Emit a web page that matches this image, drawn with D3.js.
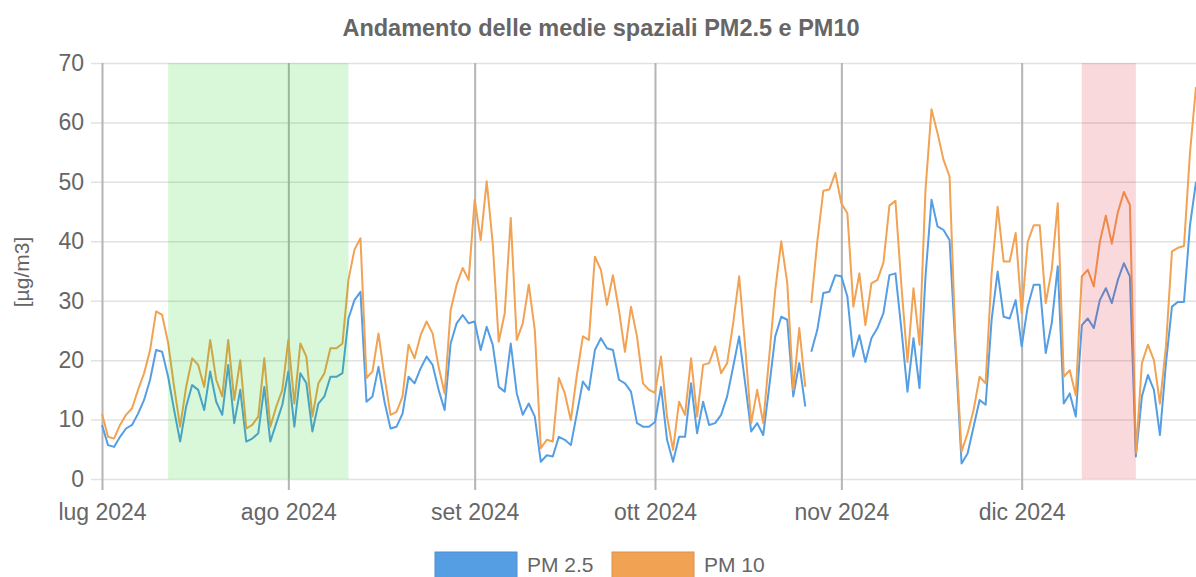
<!DOCTYPE html>
<html>
<head>
<meta charset="utf-8">
<script src="https://cdn.jsdelivr.net/npm/d3@7"></script>
<style>
body { margin: 0; background: #fff; }
text { font-family: "Liberation Sans", Arial, sans-serif; }
</style>
</head>
<body>
<div class="chart"></div>
<script>
const width = 1196, height = 577;

// daily values from 2024-07-01
const startDate = "2024-07-01";
const pm25 = [
  9.1, 5.7, 5.4, 7.1, 8.5, 9.1, 11.0, 13.3, 16.7, 21.7, 21.4, 17.2, 11.6, 6.3, 12.2, 15.8,
  15.0, 11.6, 18.1, 13.0, 10.8, 19.2, 9.4, 15.0, 6.3, 6.8, 7.7, 15.5, 6.3, 9.4, 12.5,
  18.1, 8.8, 17.8, 16.1, 8.0, 12.7, 13.9, 17.2, 17.2, 17.8, 27.0, 30.1, 31.5, 13.0, 13.9,
  18.9, 13.0, 8.5, 8.8, 11.0, 17.2, 16.1, 18.6, 20.6, 19.2, 15.0, 11.6, 22.8, 26.2, 27.6, 26.2,
  26.5, 21.7, 25.6, 22.6, 15.5, 14.7, 22.8, 14.4, 10.8, 12.7, 10.5, 2.9, 4.0, 3.8, 7.1,
  6.6, 5.7, 11.0, 16.4, 15.0, 21.7, 23.7, 22.0, 21.7, 16.7, 16.1, 14.7, 9.4, 8.8, 8.8,
  9.6, 15.5, 6.6, 2.9, 7.1, 7.1, 16.1, 7.7, 13.0, 9.1, 9.4, 10.8, 13.9, 18.9, 24.0, 16.1,
  8.0, 9.4, 7.4, 15.5, 24.0, 27.3, 26.8, 13.9, 19.5, 12.2, 21.4, 25.1, 31.3, 31.5, 34.3,
  34.1, 30.7, 20.6, 24.2, 19.7, 23.7, 25.4, 27.9, 34.3, 34.6, 25.1, 14.7, 23.7, 15.3, 34.1,
  47.0, 42.5, 41.9, 40.2, 21.7, 2.6, 4.3, 8.8, 13.3, 12.5, 26.8, 34.9, 27.3, 27.0, 30.1,
  22.3, 29.0, 32.7, 32.7, 21.2, 26.2, 35.8, 12.7, 14.4, 10.5, 25.9, 27.0, 25.4, 30.1, 32.1,
  29.6, 33.5, 36.3, 34.1, 3.8, 13.9, 17.5, 15.0, 7.4, 19.5, 29.0, 29.8, 29.8, 42.7, 50.0
];
const pm10 = [
  11.0, 7.1, 6.8, 9.1, 10.8, 11.9, 15.0, 17.8, 21.7, 28.2, 27.6, 22.9, 15.5, 8.8, 15.5, 20.3,
  19.2, 15.5, 23.4, 16.7, 13.9, 23.4, 13.3, 20.0, 8.5, 9.1, 10.5, 20.3, 8.8, 12.2, 15.0,
  23.4, 12.7, 22.8, 20.6, 10.5, 16.1, 17.8, 22.0, 22.0, 22.8, 33.5, 38.6, 40.5, 17.0, 18.1,
  24.5, 17.2, 10.8, 11.3, 13.9, 22.6, 20.3, 24.2, 26.5, 24.5, 18.9, 14.4, 28.4, 32.7, 35.5, 33.5,
  47.0, 40.2, 50.1, 39.7, 23.1, 27.9, 43.9, 23.4, 26.2, 32.7, 25.1, 5.2, 6.6, 6.3, 17.0,
  14.4, 9.9, 17.5, 24.0, 23.4, 37.4, 35.2, 29.3, 34.3, 28.4, 21.4, 29.0, 24.0, 16.1, 15.0,
  14.5, 20.6, 10.5, 4.9, 13.0, 10.8, 20.3, 10.5, 19.2, 19.5, 22.3, 17.8, 19.5, 26.2, 34.1, 22.3,
  9.4, 15.0, 9.4, 20.6, 31.8, 40.0, 33.0, 15.0, 25.4, 15.5, 29.6, 40.0, 48.5, 48.7, 51.5,
  46.4, 44.7, 29.0, 34.6, 25.9, 32.9, 33.5, 36.4, 46.0, 46.8, 32.4, 19.7, 32.1, 22.6, 48.7,
  62.2, 58.2, 53.7, 50.9, 22.8, 4.6, 7.7, 11.6, 17.2, 16.1, 34.6, 45.8, 36.6, 36.6, 41.4,
  27.9, 39.9, 42.7, 42.7, 29.6, 35.2, 46.4, 17.2, 18.3, 14.1, 34.1, 35.2, 32.4, 39.9, 44.3,
  39.6, 44.9, 48.3, 46.1, 4.3, 19.5, 22.6, 20.0, 12.7, 22.3, 38.3, 38.9, 39.2, 54.9, 66.0
];
const breakDate = "2024-10-27"; // the lines are interrupted before this day

const monthTicks = ["2024-07-01", "2024-08-01", "2024-09-01", "2024-10-01", "2024-11-01", "2024-12-01"];
const monthLabels = ["lug 2024", "ago 2024", "set 2024", "ott 2024", "nov 2024", "dic 2024"];
const yTicks = [0, 10, 20, 30, 40, 50, 60, 70];

const greenBand = ["2024-07-12", "2024-08-11"];
const redBand = ["2024-12-11", "2024-12-20"];

const seriesNames = ["PM 2.5", "PM 10"];
const colors = ["#559ee4", "#f1a253"];

const parse = d3.utcParse("%Y-%m-%d");
const start = parse(startDate);
const dates = pm10.map((_, i) => d3.utcDay.offset(start, i));

const svg = d3.select(".chart")
    .append("svg")
    .attr("width", width)
    .attr("height", height)
    .attr("viewBox", [0, 0, width, height]);

const x = d3.scaleUtc()
    .domain([start, dates[dates.length - 1]])
    .range([102, 1196]);
const y = d3.scaleLinear()
    .domain([0, 70])
    .range([479, 63]);

// title
svg.append("text")
    .attr("x", 601)
    .attr("y", 36)
    .attr("text-anchor", "middle")
    .attr("font-size", 23.5)
    .attr("font-weight", "bold")
    .attr("fill", "#666")
    .text("Andamento delle medie spaziali PM2.5 e PM10");

// y grid + labels
const yAxis = svg.append("g")
    .attr("transform", "translate(91,0)")
    .call(d3.axisLeft(y).tickValues(yTicks).tickSize(-(width - 91)).tickPadding(7));
yAxis.select(".domain").remove();
yAxis.selectAll("line").attr("stroke", "#e2e2e2").attr("stroke-width", 1.5);
yAxis.selectAll("text").attr("font-size", 23).attr("fill", "#666").attr("font-family", "Liberation Sans, Arial, sans-serif");

// x grid + labels
const xAxis = svg.append("g")
    .attr("transform", "translate(0,490)")
    .call(d3.axisBottom(x)
        .tickValues(monthTicks.map(parse))
        .tickFormat((d, i) => monthLabels[i])
        .tickSize(-(490 - 63))
        .tickPadding(14));
xAxis.select(".domain").remove();
xAxis.selectAll("line").attr("stroke", "#b4b4b4").attr("stroke-width", 2);
xAxis.selectAll("text").attr("font-size", 23).attr("fill", "#666").attr("font-family", "Liberation Sans, Arial, sans-serif");

// y axis title
svg.append("text")
    .attr("transform", "translate(29,272) rotate(-90)")
    .attr("text-anchor", "middle")
    .attr("font-size", 21)
    .attr("fill", "#666")
    .text("[µg/m3]");

// lines, split at the data break
const breakAt = dates.findIndex(d => +d === +parse(breakDate));
const line = d3.line()
    .x(d => x(d.date))
    .y(d => y(d.value));

[pm25, pm10].forEach((values, k) => {
    const pts = values.map((v, i) => ({date: dates[i], value: v}));
    [pts.slice(0, breakAt), pts.slice(breakAt)].forEach(seg => {
        svg.append("path")
            .datum(seg)
            .attr("d", line)
            .attr("fill", "none")
            .attr("stroke", colors[k])
            .attr("stroke-width", 2)
            .attr("stroke-linejoin", "round");
    });
});

// highlighted periods, drawn over the lines
svg.append("rect")
    .attr("x", x(parse(greenBand[0])))
    .attr("width", x(parse(greenBand[1])) - x(parse(greenBand[0])))
    .attr("y", y(70))
    .attr("height", y(0) - y(70))
    .attr("fill", "rgb(0,200,0)")
    .attr("fill-opacity", 0.15);

svg.append("rect")
    .attr("x", x(parse(redBand[0])))
    .attr("width", x(parse(redBand[1])) - x(parse(redBand[0])))
    .attr("y", y(70))
    .attr("height", y(0) - y(70))
    .attr("fill", "rgb(220,0,20)")
    .attr("fill-opacity", 0.15);

// legend
const legendX = [435, 612];
seriesNames.forEach((name, k) => {
    svg.append("rect")
        .attr("x", legendX[k])
        .attr("y", 552)
        .attr("width", 82)
        .attr("height", 28)
        .attr("fill", colors[k])
        .attr("stroke", d3.color(colors[k]).darker(0.3))
        .attr("stroke-width", 1);
    svg.append("text")
        .attr("x", legendX[k] + 92)
        .attr("y", 572)
        .attr("font-size", 21)
        .attr("fill", "#666")
        .text(name);
});
</script>
</body>
</html>
